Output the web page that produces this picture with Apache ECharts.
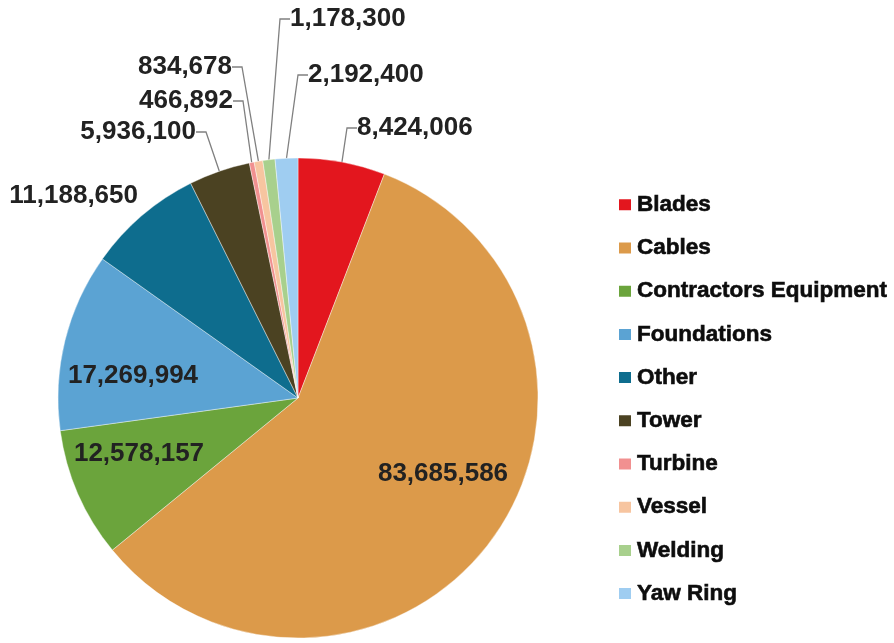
<!DOCTYPE html>
<html>
<head>
<meta charset="utf-8">
<script src="https://cdn.jsdelivr.net/npm/echarts@6/dist/echarts.min.js"></script>
<style>
  html, body { margin: 0; padding: 0; background: #fff; }
  #chart { width: 894px; height: 643px; }
</style>
</head>
<body>
<div id="chart"></div>
<script>
// Spend by category
const categories = ['Blades', 'Cables', 'Contractors Equipment', 'Foundations', 'Other',
                    'Tower', 'Turbine', 'Vessel', 'Welding', 'Yaw Ring'];
const values = [8424006, 83685586, 12578157, 17269994, 11188650,
                5936100, 466892, 834678, 1178300, 2192400];
const colors = ['#E3161E', '#DC9A4A', '#6BA43C', '#5BA3D3', '#0E6D8E',
                '#4B4222', '#F19090', '#F7C5A0', '#A8D08D', '#9FCDF1'];

// Where each value label sits (x, y, horizontal alignment)
const labelSpots = {
  'Blades':                { x: 357, y: 128, align: 'left' },
  'Cables':                { x: 443, y: 474, align: 'center' },
  'Contractors Equipment': { x: 139, y: 454, align: 'center' },
  'Foundations':           { x: 133, y: 376, align: 'center' },
  'Other':                 { x: 138, y: 196, align: 'right' },
  'Tower':                 { x: 196, y: 132, align: 'right' },
  'Turbine':               { x: 233, y: 101, align: 'right' },
  'Vessel':                { x: 232, y: 67,  align: 'right' },
  'Welding':               { x: 290, y: 19,  align: 'left' },
  'Yaw Ring':              { x: 308, y: 75,  align: 'left' }
};
const insideSlices = ['Cables', 'Contractors Equipment', 'Foundations'];

const fmt = v => v.toLocaleString('en-US');

const chart = echarts.init(document.getElementById('chart'), null, { renderer: 'canvas' });

const data = categories.map((name, i) => ({
  name: name,
  value: values[i],
  itemStyle: { color: colors[i] },
  label: { position: insideSlices.includes(name) ? 'inside' : 'outside' },
  labelLine: { show: !insideSlices.includes(name) && name !== 'Other' }
}));

chart.setOption({
  animation: false,
  backgroundColor: '#ffffff',
  legend: {
    orient: 'vertical',
    left: 612,
    top: 188,
    icon: 'rect',
    itemWidth: 14,
    itemHeight: 13,
    itemGap: 19.6,
    data: categories,
    textStyle: {
      fontFamily: 'Liberation Sans, Arial, sans-serif',
      fontWeight: 'bold',
      fontSize: 22.5,
      lineHeight: 22,
      color: '#0d0d0d',
      textBorderColor: '#0d0d0d',
      textBorderWidth: 0.6
    }
  },
  series: [{
    type: 'pie',
    center: [298, 398],
    radius: 240,
    startAngle: 90,
    clockwise: true,
    avoidLabelOverlap: false,
    itemStyle: { borderColor: '#ffffff', borderWidth: 0.4 },
    label: {
      show: true,
      formatter: p => fmt(p.value),
      fontFamily: 'Liberation Sans, Arial, sans-serif',
      fontWeight: 'bold',
      fontSize: 26,
      color: '#222222'
    },
    labelLine: {
      length: 10,
      length2: 10,
      lineStyle: { color: '#808080', width: 1.3 }
    },
    labelLayout: function (params) {
      const name = categories[params.dataIndex];
      const s = labelSpots[name];
      return {
        x: s.x,
        y: s.y,
        align: s.align,
        verticalAlign: 'middle'
      };
    },
    data: data
  }]
});
</script>
</body>
</html>
